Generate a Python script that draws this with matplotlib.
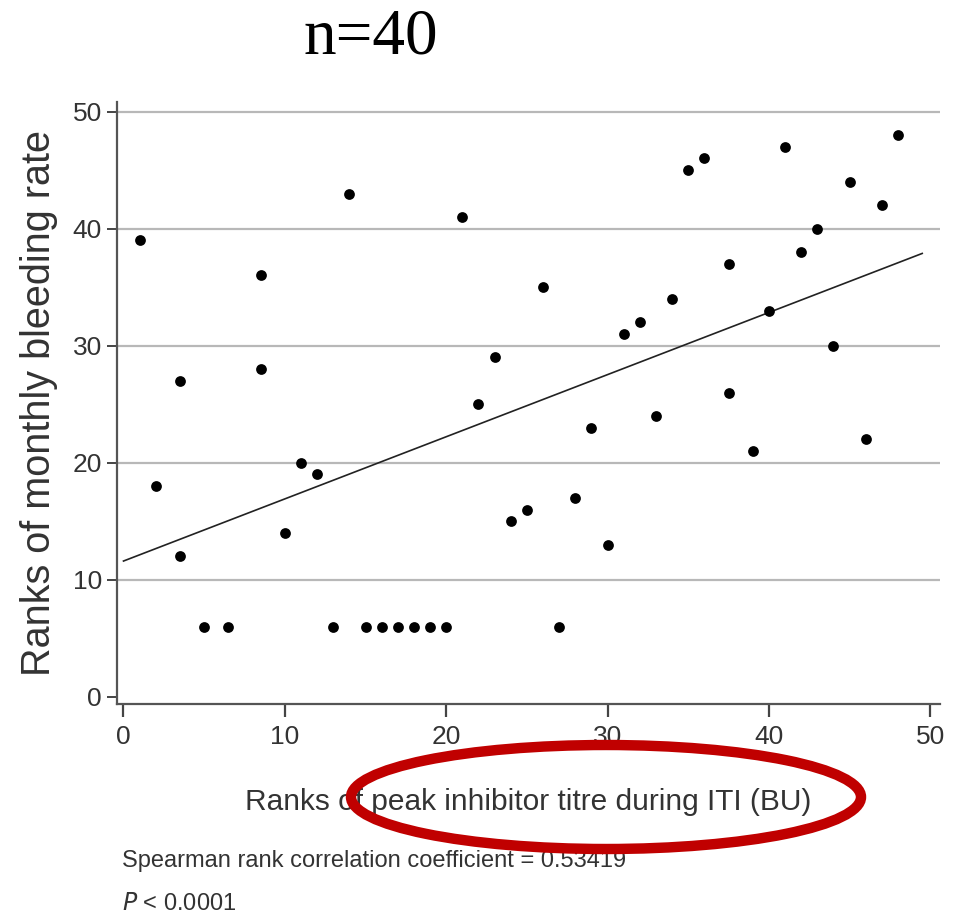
import numpy as np
import matplotlib
matplotlib.use('Agg')
import matplotlib.pyplot as plt
from matplotlib.patches import Ellipse

# ranks
rank_titre = [1, 2, 3.5, 3.5, 5, 6.5, 8.5, 8.5, 10, 11, 12, 13, 14, 15, 16, 17,
              18, 19, 20, 21, 22, 23, 24, 25, 26, 27, 28, 29, 30, 31, 32, 33,
              34, 35, 36, 37.5, 37.5, 39, 40, 41, 42, 43, 44, 45, 46, 47, 48]
rank_bleed = [39, 18, 27, 12, 6, 6, 36, 28, 14, 20, 19, 6, 43, 6, 6, 6,
              6, 6, 6, 41, 25, 29, 15, 16, 35, 6, 17, 23, 13, 31, 32, 24,
              34, 45, 46, 37, 26, 21, 33, 47, 38, 40, 30, 44, 22, 42, 48]

# fitted line as drawn in the reference
fit_intercept = 11.6
fit_slope = 0.531
fit_range = [0, 49.5]

x_ticks = [0, 10, 20, 30, 40, 50]
y_ticks = [0, 10, 20, 30, 40, 50]

sans = ['Liberation Sans', 'DejaVu Sans']
txt_col = '#333333'

fig = plt.figure(figsize=(9.57, 9.22), dpi=100)
ax = fig.add_axes([0.1223, 0.2364, 0.8599, 0.6533])

ax.set_xlim(-0.4, 50.6)
ax.set_ylim(-0.62, 50.85)

for yv in y_ticks[1:]:
    ax.axhline(yv, color='#b8b8b8', lw=1.6, zorder=1)

xl = np.array(fit_range)
ax.plot(xl, fit_slope * xl + fit_intercept, color='#222222', lw=1.2, zorder=2)

ax.scatter(rank_titre, rank_bleed, s=60, color='black', zorder=3, linewidths=0)

ax.spines['top'].set_visible(False)
ax.spines['right'].set_visible(False)
for s in ['left', 'bottom']:
    ax.spines[s].set_color('#555555')
    ax.spines[s].set_linewidth(1.6)

ax.set_xticks(x_ticks)
ax.set_yticks(y_ticks)
ax.tick_params(axis='x', length=9, width=1.6, color='#444444', pad=6,
               labelsize=19, labelcolor=txt_col)
ax.tick_params(axis='y', length=7, width=1.4, color='#444444', pad=4,
               labelsize=19, labelcolor=txt_col)
for lab in ax.get_xticklabels() + ax.get_yticklabels():
    lab.set_family(sans)

ax.set_xlabel('Ranks of peak inhibitor titre during ITI (BU)', family=sans,
              fontsize=21.5, color=txt_col, labelpad=28)
ax.set_ylabel('Ranks of monthly bleeding rate', family=sans,
              fontsize=28.5, color=txt_col, labelpad=10)

fig.text(0.3877, 1 - 53 / 922, 'n=40', family=['Liberation Serif', 'DejaVu Serif'],
         fontsize=47, ha='center', va='baseline', color='black')

fig.text(0.127, 0.066, 'Spearman rank correlation coefficient = 0.53419',
         family=sans, fontsize=17, color=txt_col, va='center')
fig.text(0.127, 0.019, r'$\it{P}$ < 0.0001', family=sans, fontsize=17,
         color=txt_col, va='center')

ell = Ellipse((606 / 957, 1 - 797 / 922), 510 / 957, 104 / 922,
              transform=fig.transFigure, fill=False, edgecolor='#c00000',
              lw=7.5, zorder=10)
fig.patches.append(ell)

fig.savefig('out.png', dpi=100)
